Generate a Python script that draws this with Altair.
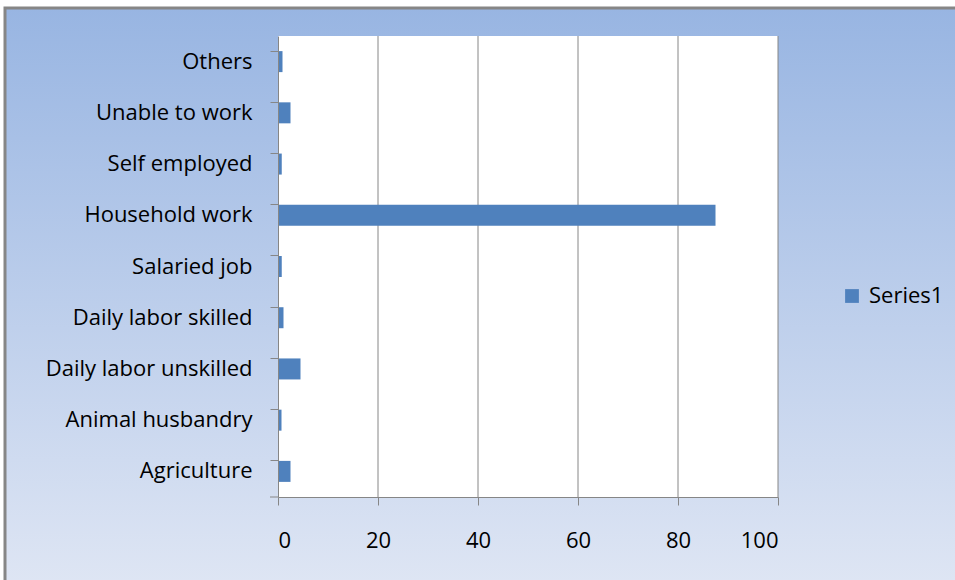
import altair as alt
import pandas as pd

categories = ["Others", "Unable to work", "Self employed", "Household work",
              "Salaried job", "Daily labor skilled", "Daily labor unskilled",
              "Animal husbandry", "Agriculture"]
values = [0.9, 2.5, 0.75, 87.5, 0.75, 1.1, 4.5, 0.7, 2.5]
series = ["Series1"] * len(categories)
x_ticks = [0, 20, 40, 60, 80, 100]

df = pd.DataFrame({"category": categories, "value": values, "series": series})
grid_df = pd.DataFrame({"tick": x_ticks[1:]})

FONT = "Open Sans"
FS = 22
W, H = 500, 461
PL, PT = 278, 36
GRAY = "#868686"

xscale = alt.Scale(domain=[0, 100], nice=False)

bg = alt.Chart(pd.DataFrame({"a": [0]})).mark_rect(
    color=alt.Gradient(gradient="linear", x1=0, y1=0, x2=0, y2=1,
                       stops=[alt.GradientStop(color="#98B5E2", offset=0),
                              alt.GradientStop(color="#DFE6F4", offset=1)]),
    stroke=GRAY, strokeWidth=3, clip=False
).encode(x=alt.value(5 - PL), x2=alt.value(960 - PL),
         y=alt.value(8 - PT), y2=alt.value(590 - PT))

plot_bg = alt.Chart(pd.DataFrame({"a": [0]})).mark_rect(color="white").encode(
    x=alt.value(0), x2=alt.value(W), y=alt.value(0), y2=alt.value(H))

grid = alt.Chart(grid_df).mark_rule(color=GRAY, strokeWidth=1).encode(
    x=alt.X("tick:Q", scale=xscale), y=alt.value(0), y2=alt.value(H))

bars = alt.Chart(df).mark_bar(size=21).encode(
    x=alt.X("value:Q", scale=xscale,
            axis=alt.Axis(values=x_ticks, title=None, grid=False, zindex=1,
                          domainColor=GRAY, tickColor=GRAY,
                          tickSize=8, labelFont=FONT, labelFontSize=FS,
                          labelColor="#000000", labelPadding=25)),
    y=alt.Y("category:N", sort=categories,
            scale=alt.Scale(paddingInner=0.59, paddingOuter=0.295),
            axis=alt.Axis(title=None, bandPosition=0, domainColor=GRAY, zindex=1,
                          tickColor=GRAY, tickSize=8, labelFont=FONT,
                          labelFontSize=FS, labelColor="#000000", labelPadding=18,
                          labelLimit=400, grid=False)),
    color=alt.Color("series:N", scale=alt.Scale(range=["#4F81BD"]),
                    legend=alt.Legend(title=None, orient="none", legendX=841 - PL,
                                      legendY=285 - PT, symbolType="square",
                                      symbolSize=190, symbolStrokeWidth=0,
                                      labelFont=FONT, labelFontSize=FS,
                                      labelColor="#000000", labelOffset=6))
)

corner_tick = alt.Chart(pd.DataFrame({"a": [0]})).mark_rule(color=GRAY).encode(
    x=alt.value(-8), x2=alt.value(0), y=alt.value(H))

chart = alt.layer(bg, plot_bg, grid, bars, corner_tick).properties(
    width=W, height=H,
    autosize=alt.AutoSizeParams(type="none"),
    padding={"left": PL, "top": PT, "right": 955 - PL - W, "bottom": 580 - PT - H},
    background="white"
).configure_view(stroke=None)

chart.save("out.html", embed_options={"renderer": "svg", "actions": False})
